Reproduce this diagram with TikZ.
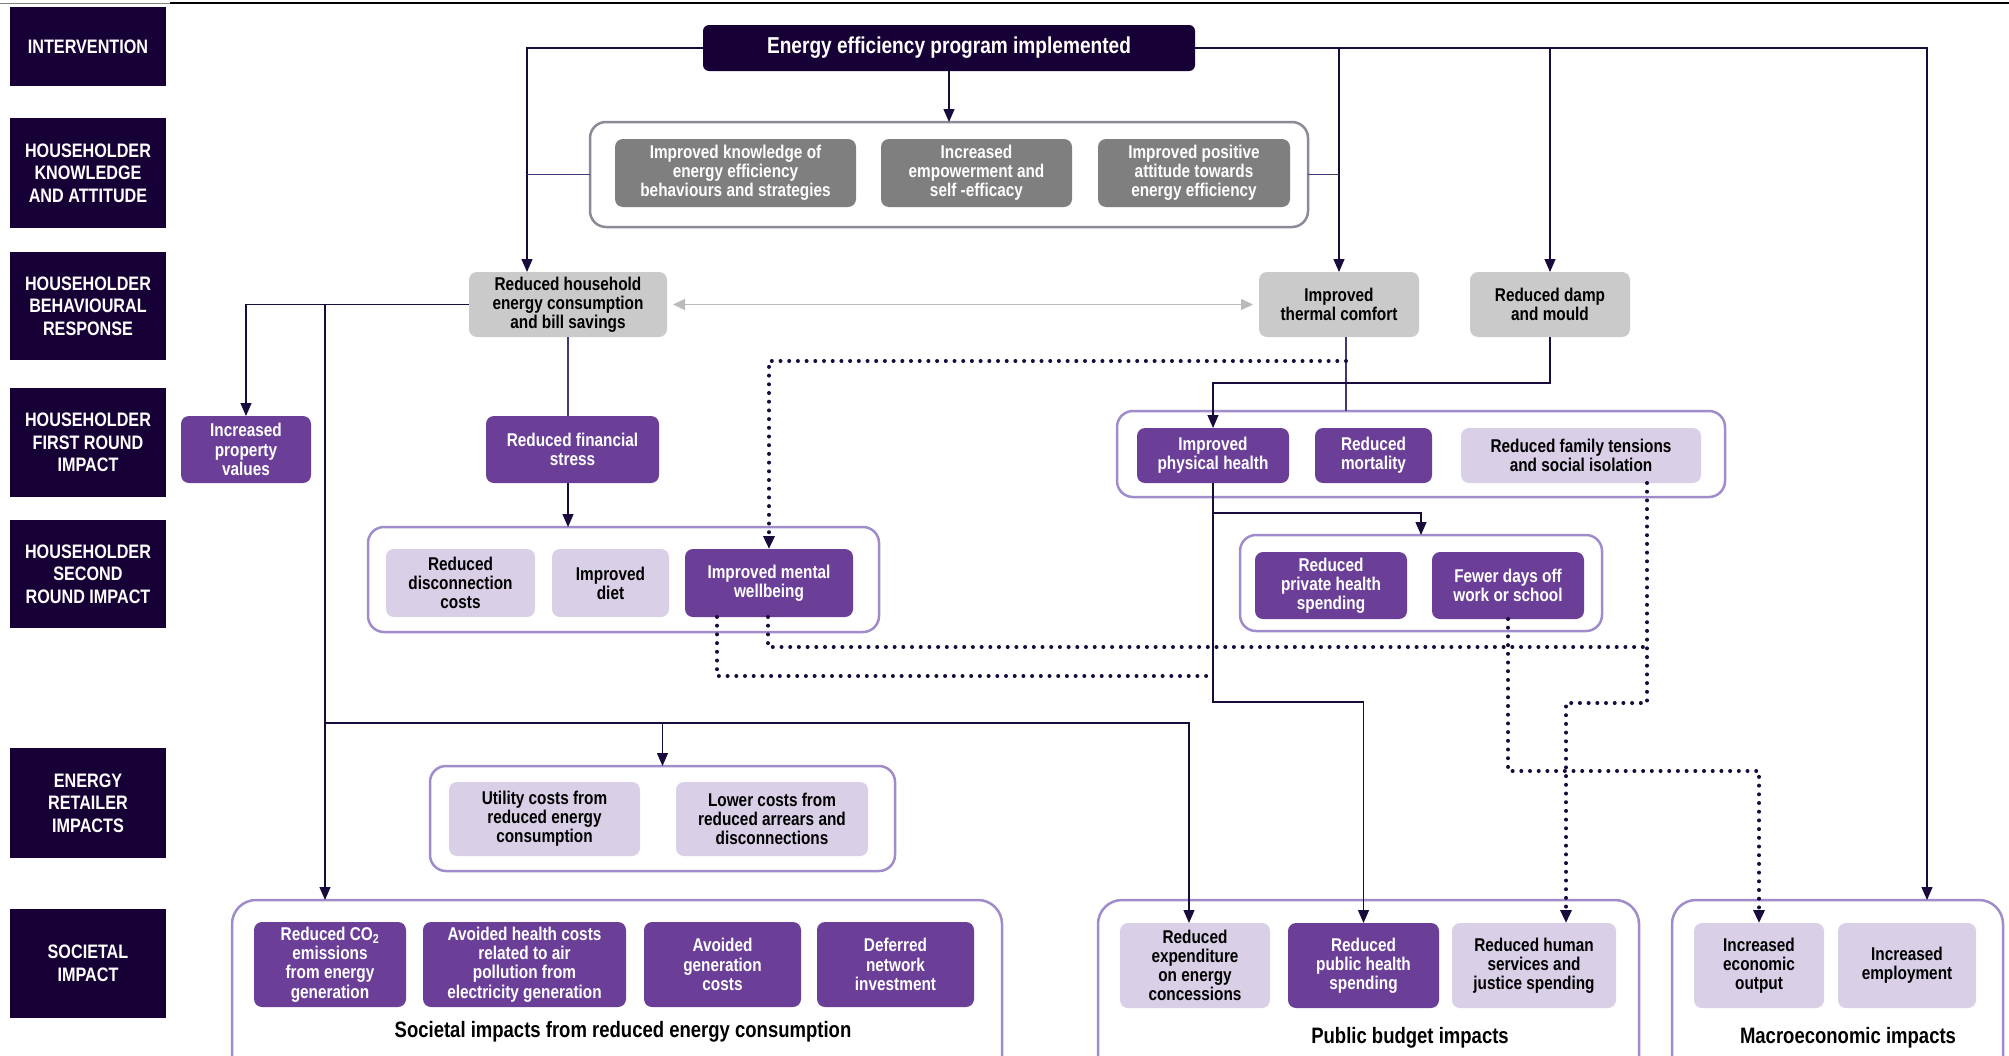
\documentclass[tikz,border=0pt]{standalone}
\usepackage{fontspec}
\setmainfont{Liberation Sans}[FakeStretch=0.83]
\usetikzlibrary{arrows.meta,calc}
\definecolor{navy}{HTML}{170035}
\definecolor{pur}{HTML}{6B3F98}
\definecolor{lav}{HTML}{D9CFE7}
\definecolor{lgrey}{HTML}{CACACA}
\definecolor{dgrey}{HTML}{7F7F7F}
\definecolor{cborder}{HTML}{A18CCB}
\definecolor{kborder}{HTML}{8E8999}
\definecolor{lnc}{HTML}{43367A}
\definecolor{dotcol}{HTML}{1A0B3D}
\begin{document}
\begin{tikzpicture}[x=1pt,y=-1pt,
  every node/.style={inner sep=0pt,outer sep=0pt,align=center},
  lbl/.style={fill=navy,text=white,minimum width=156pt,font=\fontsize{19.5}{22.7}\selectfont\bfseries},
  bx/.style={rounded corners=8pt,font=\fontsize{18.5}{19.2}\selectfont\bfseries},
  pbox/.style={bx,fill=pur,text=white},
  lbox/.style={bx,fill=lav,text=black},
  gbox/.style={bx,fill=lgrey,text=black},
  dbox/.style={bx,fill=dgrey,text=white},
  cont/.style={draw=cborder,line width=2.5pt,rounded corners=16pt,fill=white},
  bcont/.style={draw=cborder,line width=2.5pt,rounded corners=24pt,fill=white},
  clab/.style={font=\fontsize{22.3}{25}\selectfont\bfseries},
  conn/.style={draw=lnc,line width=1.2pt},
  dotc/.style={draw=dotcol,line width=4pt,line cap=round,dash pattern=on 0pt off 8.7pt},
  tip/.style={-{Triangle[length=13pt,width=11pt]},color=dotcol},
]
\useasboundingbox (0,0) rectangle (2009,1055);
% top rule
\draw[line width=0.8pt,gray] (0,3) -- (170,3);
\draw[line width=2.6pt,black] (170,3) -- (2009,3);

% row labels
\node[lbl,minimum height=79pt] (lint) at (88,46.5) {INTERVENTION};
\node[lbl,minimum height=110pt] (lkn) at (88,173) {HOUSEHOLDER\\KNOWLEDGE\\AND ATTITUDE};
\node[lbl,minimum height=108pt] (lbe) at (88,306) {HOUSEHOLDER\\BEHAVIOURAL\\RESPONSE};
\node[lbl,minimum height=109pt] (lfr) at (88,442.5) {HOUSEHOLDER\\FIRST ROUND\\IMPACT};
\node[lbl,minimum height=108pt] (lsr) at (88,574) {HOUSEHOLDER\\SECOND\\ROUND IMPACT};
\node[lbl,minimum height=110pt] (lre) at (88,803) {ENERGY\\RETAILER\\IMPACTS};
\node[lbl,minimum height=109pt] (lso) at (88,963.5) {SOCIETAL\\IMPACT};

% containers
\node[cont,draw=kborder,minimum width=718pt,minimum height=105pt] (know) at (949,174.5) {};
\node[cont,minimum width=511pt,minimum height=105pt] (sr2) at (623.5,579.5) {};
\node[cont,minimum width=608pt,minimum height=86pt] (pr1) at (1421,454) {};
\node[cont,minimum width=362pt,minimum height=96pt] (pr2) at (1421,583) {};
\node[cont,minimum width=465pt,minimum height=105pt] (ret) at (662.5,818.5) {};
\node[bcont,minimum width=770pt,minimum height=180pt] (soc) at (617,990) {};
\node[bcont,minimum width=541pt,minimum height=180pt] (pub) at (1368.5,990) {};
\node[bcont,minimum width=331pt,minimum height=180pt] (mac) at (1837.5,990) {};

% title
\node[fill=navy,text=white,rounded corners=6pt,minimum width=492pt,minimum height=46pt,font=\fontsize{23}{26}\selectfont\bfseries] (title) at (949,48) {Energy efficiency program implemented};

% knowledge
\node[dbox,minimum width=241pt,minimum height=68pt] (k1) at (735.5,173) {Improved knowledge of\\energy efficiency\\behaviours and strategies};
\node[dbox,minimum width=191pt,minimum height=68pt] (k2) at (976.5,173) {Increased\\empowerment and\\self -efficacy};
\node[dbox,minimum width=192pt,minimum height=68pt] (k3) at (1194,173) {Improved positive\\attitude towards\\energy efficiency};

% behavioural
\node[gbox,minimum width=198pt,minimum height=65pt] (rh) at (568,304.5) {Reduced household\\energy consumption\\and bill savings};
\node[gbox,minimum width=160pt,minimum height=65pt] (tc) at (1339,304.5) {Improved\\thermal comfort};
\node[gbox,minimum width=160pt,minimum height=65pt] (damp) at (1550,304.5) {Reduced damp\\and mould};

% first round
\node[pbox,minimum width=130pt,minimum height=67pt] (ipv) at (246,449.5) {Increased\\property\\values};
\node[pbox,minimum width=173pt,minimum height=67pt] (fs) at (572.5,449.5) {Reduced financial\\stress};
\node[pbox,minimum width=152pt,minimum height=55pt] (ph) at (1213,455.5) {Improved\\physical health};
\node[pbox,minimum width=117pt,minimum height=55pt] (mort) at (1373.5,455.5) {Reduced\\mortality};
\node[lbox,minimum width=240pt,minimum height=55pt] (ft) at (1581,455.5) {Reduced family tensions\\and social isolation};

% second round
\node[lbox,minimum width=149pt,minimum height=68pt] (dc) at (460.5,583) {Reduced\\disconnection\\costs};
\node[lbox,minimum width=117pt,minimum height=68pt] (diet) at (610.5,583) {Improved\\diet};
\node[pbox,minimum width=168pt,minimum height=68pt] (mw) at (769,583) {Improved mental\\wellbeing};
\node[pbox,minimum width=152pt,minimum height=67pt] (pv) at (1331,585.5) {Reduced\\private health\\spending};
\node[pbox,minimum width=152pt,minimum height=67pt] (fd) at (1508,585.5) {Fewer days off\\work or school};

% retailer
\node[lbox,minimum width=191pt,minimum height=74pt] (uc) at (544.5,819) {Utility costs from\\reduced energy\\consumption};
\node[lbox,minimum width=192pt,minimum height=74pt] (lc) at (772,819) {Lower costs from\\reduced arrears and\\disconnections};

% societal
\node[pbox,minimum width=152pt,minimum height=85pt] (co2) at (330,964.5) {Reduced CO\textsubscript{2}\\emissions\\from energy\\generation};
\node[pbox,minimum width=203pt,minimum height=85pt] (ahc) at (524.5,964.5) {Avoided health costs\\related to air\\pollution from\\electricity generation};
\node[pbox,minimum width=157pt,minimum height=85pt] (agc) at (722.5,964.5) {Avoided\\generation\\costs};
\node[pbox,minimum width=157pt,minimum height=85pt] (dni) at (895.5,964.5) {Deferred\\network\\investment};
\node[clab] (socl) at (623,1032) {Societal impacts from reduced energy consumption};

\node[lbox,minimum width=150pt,minimum height=85pt] (rexp) at (1195,965.5) {Reduced\\expenditure\\on energy\\concessions};
\node[pbox,minimum width=151pt,minimum height=85pt] (puh) at (1363.5,965.5) {Reduced\\public health\\spending};
\node[lbox,minimum width=164pt,minimum height=85pt] (hs) at (1534,965.5) {Reduced human\\services and\\justice spending};
\node[clab] (publ) at (1410,1038) {Public budget impacts};

\node[lbox,minimum width=130pt,minimum height=85pt] (eo) at (1759,965.5) {Increased\\economic\\output};
\node[lbox,minimum width=138pt,minimum height=85pt] (emp) at (1907,965.5) {Increased\\employment};
\node[clab] (macl) at (1848,1038) {Macroeconomic impacts};

% helper coordinates
\coordinate (xL) at (527,0);
\coordinate (xR) at (1927,0);
\coordinate (x325) at (325,0);
\coordinate (jr) at (325,723);
\coordinate (xE) at (1189,0);
\coordinate (xT) at (1346,0);
\coordinate (d1) at (1346,361);
\coordinate (c383) at (0,383);
\coordinate (c513) at (0,513);
\coordinate (c702) at (0,702);
\coordinate (m1) at (717,0);
\coordinate (m2) at (768,0);
\coordinate (c676) at (0,676);
\coordinate (c647) at (0,647);
\coordinate (xF) at (1647,0);
\coordinate (xH) at (1566,0);
\coordinate (c703) at (0,703);
\coordinate (c771) at (0,771);

% solid connectors
\draw[conn,tip] (title.south) -- (know.north);
\draw[conn,tip] (title.west) -| (rh.north -| xL);
\draw[conn] (know.west) -- (know.west -| xL);
\draw[conn,tip] (title.east) -| (mac.north -| xR);
\draw[conn,tip] (tc.north |- title.east) -- (tc.north);
\draw[conn,tip] (damp.north |- title.east) -- (damp.north);
\draw[conn] (know.east) -- (know.east -| tc.north);
\draw[draw=lgrey!80!gray,line width=1.5pt,{Triangle[length=12pt,width=11pt]}-{Triangle[length=12pt,width=11pt]},shorten <=6pt,shorten >=6pt] (rh.east) -- (tc.west);
\draw[conn,tip] (rh.west) -| (ipv.north);
\draw[conn,tip] (rh.west -| x325) -- (soc.north -| x325);
\draw[conn,tip] (jr) -| (rexp.north -| xE);
\draw[conn,tip] (jr -| ret.north) -- (ret.north);
\draw[conn] (rh.south) -- (rh.south |- fs.north);
\draw[conn,tip] (fs.south -| rh.south) -- (sr2.north -| rh.south);
\draw[conn] (tc.south -| xT) -- (pr1.north -| xT);
\draw[conn,tip] (damp.south) -- (damp.south |- c383) -| (ph.north);
\draw[conn,tip] (ph.south) -- (ph.south |- c702) -| (puh.north);
\draw[conn,tip] (ph.south |- c513) -| (pr2.north);

% dotted connectors
\draw[dotc,tip] (d1) -| (mw.north);
\draw[dotc] (mw.south -| m1) |- (ph.south |- c676);
\draw[dotc] (mw.south -| m2) |- (xF |- c647);
\draw[dotc,tip] (ft.south -| xF) |- (xH |- c703) -- (hs.north -| xH);
\draw[dotc,tip] (fd.south) |- (eo.north |- c771) -- (eo.north);
\end{tikzpicture}
\end{document}
